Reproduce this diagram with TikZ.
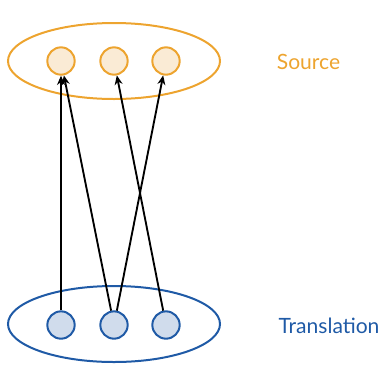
\documentclass[tikz,border=0pt]{standalone}
\usepackage{fontspec}
\setmainfont{Lato}
\usetikzlibrary{shapes.geometric,arrows.meta}
\definecolor{srcorange}{HTML}{EDA42F}
\definecolor{srcfill}{HTML}{FAEBD5}
\definecolor{trgblue}{HTML}{1F5AA6}
\definecolor{trgfill}{HTML}{D0DCEC}
\tikzset{
	srcword/.style={circle, draw=srcorange, fill=srcfill, line width=1.5pt, minimum size=20.5pt, inner sep=0pt},
	trgword/.style={circle, draw=trgblue, fill=trgfill, line width=1.5pt, minimum size=20.5pt, inner sep=0pt},
	alignarrow/.style={line width=1.4pt, -{Stealth[length=7pt,width=6pt]}}
}
\begin{document}
\begin{tikzpicture}[x=0.75pt, y=-0.75pt]
	\useasboundingbox (0, 0) rectangle (384, 379);
	
	% sentences
	\node[ellipse, draw=srcorange, line width=1.5pt, minimum width=159pt, minimum height=57pt] (srcbox) at (114, 61) {};
	\node[ellipse, draw=trgblue, line width=1.5pt, minimum width=159pt, minimum height=57pt] (trgbox) at (114, 324) {};
	
	\node[srcword] (s1) at (61, 61) {};
	\node[srcword] (s2) at (114, 61) {};
	\node[srcword] (s3) at (166, 61) {};
	
	\node[trgword] (t1) at (61, 325) {};
	\node[trgword] (t2) at (114, 325) {};
	\node[trgword] (t3) at (166, 325) {};
	
	\node[text=srcorange, font=\fontsize{15.8}{18}\selectfont] (srclabel) at (308.5, 62) {Source};
	\node[text=trgblue, font=\fontsize{15.8}{18}\selectfont] (trglabel) at (329, 326) {Translation};
	
	% alignments
	\draw[alignarrow] (t1) -- (s1);
	\draw[alignarrow] (t2) -- (s1);
	\draw[alignarrow] (t2) -- (s3);
	\draw[alignarrow] (t3) -- (s2);
\end{tikzpicture}
\end{document}
